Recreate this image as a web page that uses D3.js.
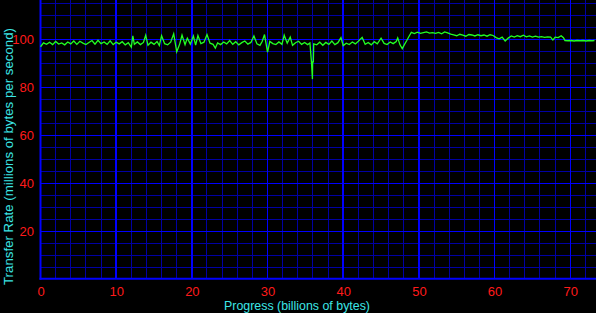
<!DOCTYPE html>
<html>
<head>
<meta charset="utf-8">
<script src="https://cdn.jsdelivr.net/npm/d3@7"></script>
<style>
  html, body { margin: 0; padding: 0; background: #000; }
  svg { display: block; }
</style>
</head>
<body>
<script>
var width = 596, height = 313;
var plot = { left: 40.5, right: 596, top: 0, bottom: 279.3 };

// tick labels
var x_ticks = [0, 10, 20, 30, 40, 50, 60, 70];
var y_ticks = [20, 40, 60, 80, 100];

// progress in billions of bytes
var progress = [
  0, 0.4, 0.8, 1.2, 1.6, 2.0, 2.4, 2.8, 3.2, 3.6, 4.0, 4.4, 4.8, 5.2, 5.6, 6.0,
  6.4, 6.8, 7.2, 7.6, 8.0, 8.4, 8.8, 9.2, 9.6, 10.0, 10.4, 10.8, 11.2, 11.6, 12.0, 12.2,
  12.4, 12.8, 13.2, 13.6, 13.9, 14.2, 14.6, 15.0, 15.4, 15.7, 16.0, 16.4, 16.8, 17.2, 17.6, 18.0,
  18.4, 18.7, 19.1, 19.4, 19.8, 20.2, 20.5, 20.8, 21.2, 21.6, 22.0, 22.4, 22.8, 23.1, 23.4, 23.8,
  24.2, 24.6, 25.0, 25.4, 25.8, 26.2, 26.6, 27.0, 27.4, 27.8, 28.2, 28.6, 29.0, 29.3, 29.6, 30.0,
  30.3, 30.7, 31.1, 31.5, 31.9, 32.2, 32.6, 33.0, 33.3, 33.7, 34.1, 34.5, 34.9, 35.3, 35.6, 35.8,
  35.93, 35.96, 36.05, 36.1, 36.5, 36.9, 37.3, 37.7, 38.1, 38.5, 38.9, 39.3, 39.7, 40.0, 40.4, 40.8,
  41.2, 41.6, 42.0, 42.5, 42.9, 43.3, 43.7, 44.1, 44.5, 45.0, 45.4, 45.8, 46.2, 46.6, 47.0, 47.2,
  47.5, 47.8, 48.1, 48.4, 48.7, 49.0, 49.4, 49.8, 50.2, 50.6, 51.0, 51.4, 51.8, 52.2, 52.6, 53.0,
  53.4, 53.8, 54.2, 54.6, 55.0, 55.4, 55.8, 56.2, 56.6, 57.0, 57.4, 57.8, 58.2, 58.6, 59.0, 59.4,
  59.8, 60.2, 60.6, 61.0, 61.4, 61.8, 62.2, 62.6, 63.0, 63.4, 63.8, 64.2, 64.6, 65.0, 65.4, 65.8,
  66.2, 66.6, 67.0, 67.4, 67.7, 68.0, 68.4, 68.8, 69.1, 69.3, 69.7, 70.1, 70.5, 70.9, 71.3, 71.7,
  72.1, 72.5, 72.9, 73.2
];

// transfer rate in millions of bytes per second
var rate = [
  97.0, 98.6, 98.0, 98.9, 97.9, 99.2, 98.1, 98.6, 97.8, 99.0, 98.2, 99.4, 98.0, 99.3, 98.5, 97.9,
  98.8, 99.6, 98.1, 99.7, 98.3, 99.0, 98.0, 99.5, 97.9, 98.9, 98.2, 99.1, 97.8, 98.7, 96.8, 101.5,
  98.0, 99.0, 97.9, 98.8, 101.8, 97.6, 98.9, 98.0, 99.2, 97.5, 101.6, 98.3, 97.8, 98.9, 102.4, 94.9,
  98.2, 101.9, 97.9, 100.6, 98.1, 101.5, 97.7, 101.7, 98.3, 98.9, 102.1, 98.5, 98.0, 96.4, 98.6, 97.9,
  99.0, 98.2, 99.6, 98.0, 99.1, 97.8, 98.7, 99.4, 98.1, 98.8, 101.5, 98.2, 97.6, 99.3, 102.1, 94.8,
  99.2, 98.3, 97.9, 99.0, 98.0, 101.8, 98.5, 101.0, 97.6, 98.7, 99.3, 98.0, 98.8, 97.9, 98.6, 90.7,
  83.5, 90.7, 90.7, 98.2, 97.8, 98.9, 97.6, 98.8, 98.0, 99.4, 97.9, 98.7, 100.8, 97.5, 98.5, 97.9,
  99.0, 98.2, 99.3, 100.9, 98.0, 98.8, 97.8, 99.1, 98.2, 100.6, 98.4, 97.9, 99.0, 98.3, 99.2, 100.7,
  97.8, 96.2, 98.0, 99.6, 101.4, 103.0, 102.5, 103.1, 102.6, 102.9, 103.2, 102.7, 102.9, 102.6, 103.0, 102.4,
  103.2, 102.8, 102.3, 102.0, 101.6, 102.2, 101.8, 101.4, 102.1, 101.9, 101.5, 102.0, 101.6, 101.9, 101.4, 102.0,
  101.7, 100.8, 100.3, 101.0, 99.4, 100.6, 101.5, 101.0, 101.6, 101.2, 101.8, 101.1, 101.5, 101.0, 101.4, 101.0,
  101.2, 100.9, 101.1, 101.0, 99.8, 101.0, 100.8, 101.6, 100.8, 99.6, 99.5, 99.6, 99.4, 99.6, 99.5, 99.6,
  99.4, 99.6, 99.5, 99.6
];

var font = "'Liberation Sans', Arial, sans-serif";

var svg = d3.select('body')
    .append('svg')
    .attr('width', width)
    .attr('height', height);

svg.append('rect')
    .attr('width', width)
    .attr('height', height)
    .attr('fill', '#000');

var x = d3.scaleLinear()
    .domain([0, 73.4])
    .range([plot.left, plot.right]);

var y = d3.scaleLinear()
    .domain([0, 116.5])
    .range([plot.bottom, plot.top]);

// grid: minor lines every 2 (x) and 5 (y), major every 10 / 20
var grid = svg.append('g').attr('id', 'grid').attr('shape-rendering', 'crispEdges');

grid.selectAll('line.vminor').data(d3.range(2, 74, 2).filter(function(d) { return d % 10 != 0; }))
    .enter().append('line')
    .attr('class', 'vminor')
    .attr('x1', function(d) { return x(d); })
    .attr('x2', function(d) { return x(d); })
    .attr('y1', plot.top)
    .attr('y2', plot.bottom)
    .attr('stroke', '#0000a4')
    .attr('stroke-width', 1);

grid.selectAll('line.hminor').data(d3.range(5, 120, 5).filter(function(d) { return d % 20 != 0; }))
    .enter().append('line')
    .attr('class', 'hminor')
    .attr('x1', plot.left)
    .attr('x2', plot.right)
    .attr('y1', function(d) { return y(d); })
    .attr('y2', function(d) { return y(d); })
    .attr('stroke', '#0000a4')
    .attr('stroke-width', 1);

grid.selectAll('line.vmajor').data(x_ticks.slice(1))
    .enter().append('line')
    .attr('class', 'vmajor')
    .attr('x1', function(d) { return x(d); })
    .attr('x2', function(d) { return x(d); })
    .attr('y1', plot.top)
    .attr('y2', plot.bottom)
    .attr('stroke', '#0000ff')
    .attr('stroke-width', 1.5);

grid.selectAll('line.hmajor').data(y_ticks)
    .enter().append('line')
    .attr('class', 'hmajor')
    .attr('x1', plot.left)
    .attr('x2', plot.right)
    .attr('y1', function(d) { return y(d); })
    .attr('y2', function(d) { return y(d); })
    .attr('stroke', '#0000ff')
    .attr('stroke-width', 1);

// axis lines
svg.append('line')
    .attr('x1', x(0)).attr('x2', x(0))
    .attr('y1', plot.top).attr('y2', plot.bottom + 0.5)
    .attr('stroke', '#0000ff').attr('stroke-width', 2);
svg.append('line')
    .attr('x1', x(0) - 1).attr('x2', plot.right)
    .attr('y1', y(0) - 0.5).attr('y2', y(0) - 0.5)
    .attr('stroke', '#0000ff').attr('stroke-width', 2);

// data line
var line = d3.line()
    .x(function(d, i) { return x(progress[i]); })
    .y(function(d) { return y(d); });

svg.append('path')
    .datum(rate)
    .attr('d', line)
    .attr('fill', 'none')
    .attr('stroke', '#22ff22')
    .attr('stroke-width', 1.3);

// tick labels
var xaxis = svg.append('g')
    .attr('transform', `translate(0, ${plot.bottom})`)
    .call(d3.axisBottom(x).tickValues(x_ticks).tickSize(0).tickPadding(7));

var yaxis = svg.append('g')
    .attr('transform', `translate(${plot.left}, 0)`)
    .call(d3.axisLeft(y).tickValues(y_ticks).tickSize(0).tickPadding(6.5));

svg.selectAll('.domain').remove();
svg.selectAll('.tick text')
    .attr('fill', '#ff1a1a')
    .style('font-family', font)
    .style('font-size', '13px');

// axis titles
svg.append('text')
    .attr('x', 297)
    .attr('y', 309.5)
    .attr('text-anchor', 'middle')
    .attr('textLength', 146)
    .attr('lengthAdjust', 'spacingAndGlyphs')
    .attr('fill', '#3ce6e6')
    .style('font-family', font)
    .style('font-size', '13px')
    .text('Progress (billions of bytes)');

svg.append('text')
    .attr('transform', 'translate(12.5, 156.5) rotate(-90)')
    .attr('text-anchor', 'middle')
    .attr('textLength', 257)
    .attr('lengthAdjust', 'spacingAndGlyphs')
    .attr('fill', '#3ce6e6')
    .style('font-family', font)
    .style('font-size', '13px')
    .text('Transfer Rate (millions of bytes per second)');
</script>
</body>
</html>
